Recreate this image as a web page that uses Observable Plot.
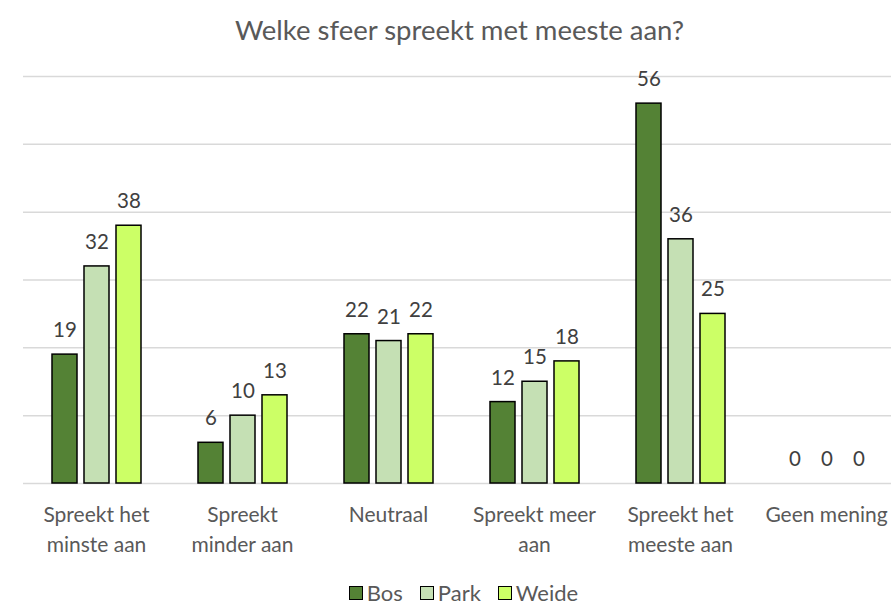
<!DOCTYPE html>
<html>
<head>
<meta charset="utf-8">
<script src="https://cdn.jsdelivr.net/npm/d3@7"></script>
<script src="https://cdn.jsdelivr.net/npm/@observablehq/plot@0.6"></script>
<style>
  body { margin: 0; background: #fff; font-family: Lato, "Open Sans", sans-serif; }
  #title { height: 60px; line-height: 60px; text-align: center; font-size: 27.5px; color: #595959; padding-left: 28px; }
  #legend { display: flex; justify-content: center; align-items: center; gap: 17px; font-size: 22px; color: #595959; height: 25px; margin-left: 36px; }
  #legend span.sw { display: inline-block; width: 12px; height: 12px; border: 1.5px solid #000; margin-right: 4px; vertical-align: middle; position: relative; top: -2px; }
</style>
</head>
<body>
<div id="title">Welke sfeer spreekt met meeste aan?</div>
<div id="chart"></div>
<div id="legend"></div>
<script>
const categories = ["Spreekt het minste aan", "Spreekt minder aan", "Neutraal", "Spreekt meer aan", "Spreekt het meeste aan", "Geen mening"];
const categoryLabels = ["Spreekt het\nminste aan", "Spreekt\nminder aan", "Neutraal", "Spreekt meer\naan", "Spreekt het\nmeeste aan", "Geen mening"];
const series = ["Bos", "Park", "Weide"];
const bos = [19, 6, 22, 12, 56, 0];
const park = [32, 10, 21, 15, 36, 0];
const weide = [38, 13, 22, 18, 25, 0];
const colors = ["#548235", "#C5E0B4", "#CCFF66"];
const gridTicks = [0, 10, 20, 30, 40, 50, 60];

const values = [bos, park, weide];
const data = [];
categories.forEach((c, i) => series.forEach((s, j) => data.push({category: c, series: s, value: values[j][i]})));
const labelData = categories.map((c, i) => ({category: c, label: categoryLabels[i]}));
const gridData = [];
categories.forEach(c => gridTicks.forEach(t => gridData.push({category: c, value: t})));

const chart = Plot.plot({
  width: 891,
  height: 520,
  marginTop: 16,
  marginBottom: 97,
  marginLeft: 23,
  marginRight: 0,
  style: {fontFamily: "Lato, 'Open Sans', sans-serif", background: "#fff"},
  fx: {domain: categories, range: [23, 899], padding: 0, axis: null},
  x: {domain: series, paddingInner: 0.22, paddingOuter: 0.85, axis: null},
  y: {domain: [0, 60], axis: null},
  color: {domain: series, range: colors},
  marks: [
    Plot.ruleY(gridData, {fx: "category", y: "value", stroke: "#d9d9d9", strokeWidth: 1.5}),
    Plot.barY(data, {fx: "category", x: "series", y: "value", fill: "series", stroke: "#000", strokeWidth: 1.5}),
    Plot.text(data, {fx: "category", x: "series", y: "value", text: d => String(d.value), dy: -24, fontSize: 20.5, fill: "#404040"}),
    Plot.text(labelData, {fx: "category", text: "label", frameAnchor: "bottom", lineAnchor: "top", dy: 18, fontSize: 21, lineHeight: 1.4, fill: "#595959"})
  ]
});
document.getElementById("chart").appendChild(chart);

const legend = document.getElementById("legend");
series.forEach((s, i) => {
  const item = document.createElement("div");
  item.innerHTML = `<span class="sw" style="background:${colors[i]}"></span>${s}`;
  legend.appendChild(item);
});
</script>
</body>
</html>
